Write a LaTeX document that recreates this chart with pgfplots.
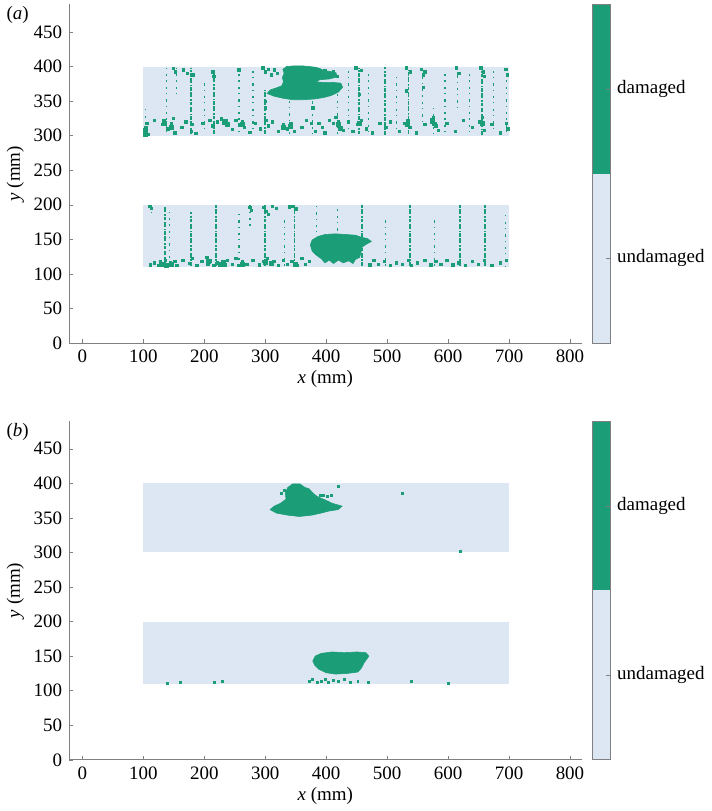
\documentclass[border=0pt]{standalone}
\usepackage{fontspec}
\setmainfont{Liberation Serif}
\usepackage{pgfplots}
\pgfplotsset{compat=1.18}
\definecolor{dgreen}{RGB}{27,158,119}
\definecolor{lblue}{RGB}{221,231,243}
\definecolor{axgray}{RGB}{128,128,128}
\pgfplotsset{
  mainax/.style={
    scale only axis, width=259.5pt, height=171.5pt,
    xmin=-22, xmax=819, ymin=0, ymax=490,
    axis x line=bottom, axis y line=left,
    axis line style={axgray,-},
    xtick={0,100,...,800}, ytick={0,50,...,450},
    tick style={axgray}, tick align=inside, major tick length=2pt,
    /pgf/number format/assume math mode=true,
    tick label style={font=\fontsize{9.6}{11}\selectfont},
    label style={font=\fontsize{9.6}{11}\selectfont},
    xlabel={\textit{x} (mm)}, ylabel={\textit{y} (mm)},
    xlabel style={yshift=3pt}, ylabel style={yshift=-2pt},
    clip=false,
  },
  cbax/.style={
    scale only axis, width=9pt, height=171.5pt,
    xmin=0, xmax=1, ymin=0, ymax=1, axis on top,
    axis line style={axgray}, xtick=\empty,
    ytick={0.25,0.75}, yticklabels={undamaged,damaged},
    ytick pos=right, yticklabel pos=right,
    tick style={axgray}, tick align=inside, major tick length=2pt,
    tick label style={font=\fontsize{9.6}{11}\selectfont},
  },
  strong/.style={draw=dgreen, line width=0.95pt, dash pattern=on 1.8pt off 0.5pt on 0.8pt off 1pt on 2.5pt off 0.7pt, unbounded coords=jump},
  faint/.style={draw=dgreen, line width=0.6pt, dash pattern=on 0.6pt off 2pt on 1.2pt off 2.6pt, unbounded coords=jump},
  speck/.style={only marks, mark=square*, mark size=0.6pt, color=dgreen, mark options={draw=none, fill=dgreen}},
  blob/.style={fill=dgreen, draw=dgreen, line width=0.3pt},
  plate/.style={fill=lblue, draw=none},
}
\begin{document}
\begin{tikzpicture}[font=\fontsize{9.6}{11}\selectfont]
% ---------------- panel (a) ----------------
\begin{axis}[mainax, name=A]
\addplot[plate] coordinates {(100,300) (700,300) (700,400) (100,400)} -- cycle;
\addplot[plate] coordinates {(100,110) (700,110) (700,200) (100,200)} -- cycle;
% strong streaks, top plate
\addplot[strong] coordinates {
(178,302) (178,398) (nan,nan)
(216,303) (216,398) (nan,nan)
(300,303) (300,366) (nan,nan)
(454,302) (454,398) (nan,nan)
(497,301) (497,399) (nan,nan)
(535,303) (535,398) (nan,nan)
(656,301) (656,399)};
% faint streaks, top plate
\addplot[faint] coordinates {
(103,300) (103,340) (nan,nan)
(138,305) (138,398) (nan,nan)
(154,360) (154,399) (nan,nan)
(200,310) (200,380) (nan,nan)
(257,305) (257,396) (nan,nan)
(280,310) (280,395) (nan,nan)
(340,303) (340,350) (nan,nan)
(378,302) (378,352) (nan,nan)
(419,303) (419,360) (nan,nan)
(437,310) (437,399) (nan,nan)
(470,305) (470,390) (nan,nan)
(515,310) (515,390) (nan,nan)
(558,320) (558,398) (nan,nan)
(576,302) (576,345) (nan,nan)
(595,305) (595,390) (nan,nan)
(616,340) (616,399) (nan,nan)
(635,305) (635,395) (nan,nan)
(675,310) (675,395) (nan,nan)
(696,305) (696,398)};
% speckles near bottom edge of top plate
\addplot[speck] coordinates {
(102,305)(104,312)(106,318)(108,302)(118,322)(131,316)(134,322)(140,310)(146,318)(149,325)
(152,304)(163,312)(170,320)(179,306)(180,316)(186,303)(198,318)(209,322)(214,314)(222,320)
(228,324)(232,318)(236,322)(240,315)(246,309)(252,322)(258,316)(262,320)(266,312)(275,305)
(284,318)(292,310)(301,322)(305,314)(312,320)(322,306)(330,316)(336,310)(342,318)(348,306)
(360,312)(368,322)(376,318)(382,306)(388,318)(394,312)(398,304)(405,322)(412,318)(416,326)
(420,320)(424,312)(428,308)(436,320)(444,306)(452,316)(458,322)(466,310)(476,304)(488,318)
(498,312)(505,320)(520,306)(528,318)(534,322)(538,312)(548,304)(562,316)(573,320)(576,326)
(580,314)(584,308)(598,318)(612,306)(625,322)(640,312)(652,320)(656,326)(660,308)(672,316)
(686,304)(696,318)(698,310)
(149,397)(153,392)(166,395)(172,390)(181,388)(214,392)(216,386)(257,395)(296,398)(300,392)
(305,396)(310,388)(315,395)(320,390)(398,394)(405,390)(412,393)(418,386)(449,398)(458,394)
(532,398)(538,392)(556,396)(560,388)(562,392)(614,398)(618,390)(654,398)(658,392)(660,386)
(695,396)(697,388)(300,350)(300,340)(378,340)(454,360)(532,365)(560,370)};
% larger damaged clusters near bottom edge of top plate
\addplot[speck, mark size=1.0pt] coordinates {
(104,308)(134,318)(146,312)(233,320)(238,316)(262,316)(330,312)(342,314)(420,316)(424,310)
(454,318)(533,316)(575,322)(578,317)(656,318)(104,302)};
% main damage, top plate
\addplot[blob] coordinates {
(303,361) (308,366) (318,369) (327,372) (330,378) (328,384) (331,390) (329,396) (335,400)
(348,401) (360,401) (372,400) (382,399) (390,397) (396,394) (406,393) (416,391) (418,385)
(405,382) (390,381) (382,378) (395,377) (410,377) (424,376) (427,370) (420,363) (408,358)
(395,355) (380,353) (362,352) (345,352) (330,354) (315,357)} -- cycle;
% strong streaks, bottom plate
\addplot[strong] coordinates {
(135,115) (135,198) (nan,nan)
(178,112) (178,190) (nan,nan)
(219,112) (219,199) (nan,nan)
(300,112) (300,199) (nan,nan)
(348,112) (348,199) (nan,nan)
(459,112) (459,199) (nan,nan)
(537,112) (537,199) (nan,nan)
(619,112) (619,199) (nan,nan)
(660,112) (660,199)};
\addplot[faint] coordinates {
(143,115) (143,190) (nan,nan)
(113,188) (113,200) (nan,nan)
(257,112) (257,190) (nan,nan)
(275,170) (275,199) (nan,nan)
(331,112) (331,180) (nan,nan)
(384,160) (384,199) (nan,nan)
(419,155) (419,199) (nan,nan)
(497,112) (497,185) (nan,nan)
(578,112) (578,180) (nan,nan)
(694,110) (694,190)};
\addplot[speck] coordinates {
(298,196)(302,190)(305,186)(312,198)(318,195)(345,198)(350,194)(340,197)(111,198)(113,195)(275,196)(277,192)
(112,113)(118,116)(125,112)(128,118)(132,113)(136,120)(140,112)(144,116)(148,113)(152,118)
(155,112)(165,120)(176,115)(180,122)(188,112)(196,118)(204,124)(206,114)(210,119)(216,112)
(222,116)(226,112)(230,118)(234,113)(238,120)(246,114)(252,122)(256,112)(262,118)(270,114)
(280,120)(290,113)(298,118)(304,122)(308,114)(314,118)(322,112)(330,120)(336,114)(344,118)
(352,112)(360,122)(366,114)(372,118)(472,113)(478,120)(486,114)(495,118)(505,112)(515,116)
(525,114)(535,120)(540,112)(550,116)(562,120)(572,113)(580,118)(588,114)(598,120)(608,113)
(618,116)(628,112)(640,118)(650,114)(660,120)(672,112)(686,116)(696,120)};
\addplot[speck, mark size=1.0pt] coordinates {
(130,114)(138,113)(146,114)(226,114)(232,116)(206,118)(262,114)(300,116)(310,115)(350,114)};
\addplot[blob] coordinates {
(374,142) (377,149) (386,154) (398,157) (415,158) (432,157) (448,156) (458,153) (468,151)
(474,147) (466,143) (459,139) (457,131) (455,124) (448,121) (444,115) (437,119) (428,116)
(420,120) (412,115) (405,120) (398,116) (392,122) (384,127) (377,133)} -- cycle;
\node at (rel axis cs:0,1) [xshift=-26pt, yshift=-5.5pt] {(\textit{a})};
\end{axis}
\begin{axis}[cbax, at={(265pt,0pt)}]
\addplot[fill=lblue, draw=none] coordinates {(0,0) (1,0) (1,0.5) (0,0.5)} -- cycle;
\addplot[fill=dgreen, draw=none] coordinates {(0,0.5) (1,0.5) (1,1) (0,1)} -- cycle;
\end{axis}
% ---------------- panel (b) ----------------
\begin{axis}[mainax, name=B, at={(0pt,-211pt)}]
\addplot[plate] coordinates {(100,300) (700,300) (700,400) (100,400)} -- cycle;
\addplot[plate] coordinates {(100,110) (700,110) (700,200) (100,200)} -- cycle;
\addplot[blob] coordinates {
(308,362) (315,367) (325,371) (334,377) (333,386) (337,394) (345,399) (357,399) (365,394)
(372,392) (378,386) (385,381) (398,376) (410,371) (426,367) (420,362) (405,360) (392,357)
(377,354) (356,352) (336,354) (318,357)} -- cycle;
\addplot[blob] coordinates {
(378,143) (382,150) (392,154) (410,156) (430,155) (450,156) (465,155) (470,150) (466,145)
(462,140) (458,133) (452,127) (435,125) (415,124) (400,126) (388,131) (381,137)} -- cycle;
\addplot[speck, mark size=0.5pt] coordinates {
(331,390)(327,386)(390,382)(396,383)(402,381)(408,382)(420,395)(525,385)(620,302)
(140,111)(160,112)(216,112)(230,113)(372,113)(378,116)(385,112)(392,114)(398,117)(404,112)
(412,115)(420,113)(430,116)(440,112)(452,113)(470,112)(540,113)(600,111)};
\node at (rel axis cs:0,1) [xshift=-26pt, yshift=-5.5pt] {(\textit{b})};
\end{axis}
\begin{axis}[cbax, at={(265pt,-211pt)}]
\addplot[fill=lblue, draw=none] coordinates {(0,0) (1,0) (1,0.5) (0,0.5)} -- cycle;
\addplot[fill=dgreen, draw=none] coordinates {(0,0.5) (1,0.5) (1,1) (0,1)} -- cycle;
\end{axis}
\end{tikzpicture}
\end{document}
